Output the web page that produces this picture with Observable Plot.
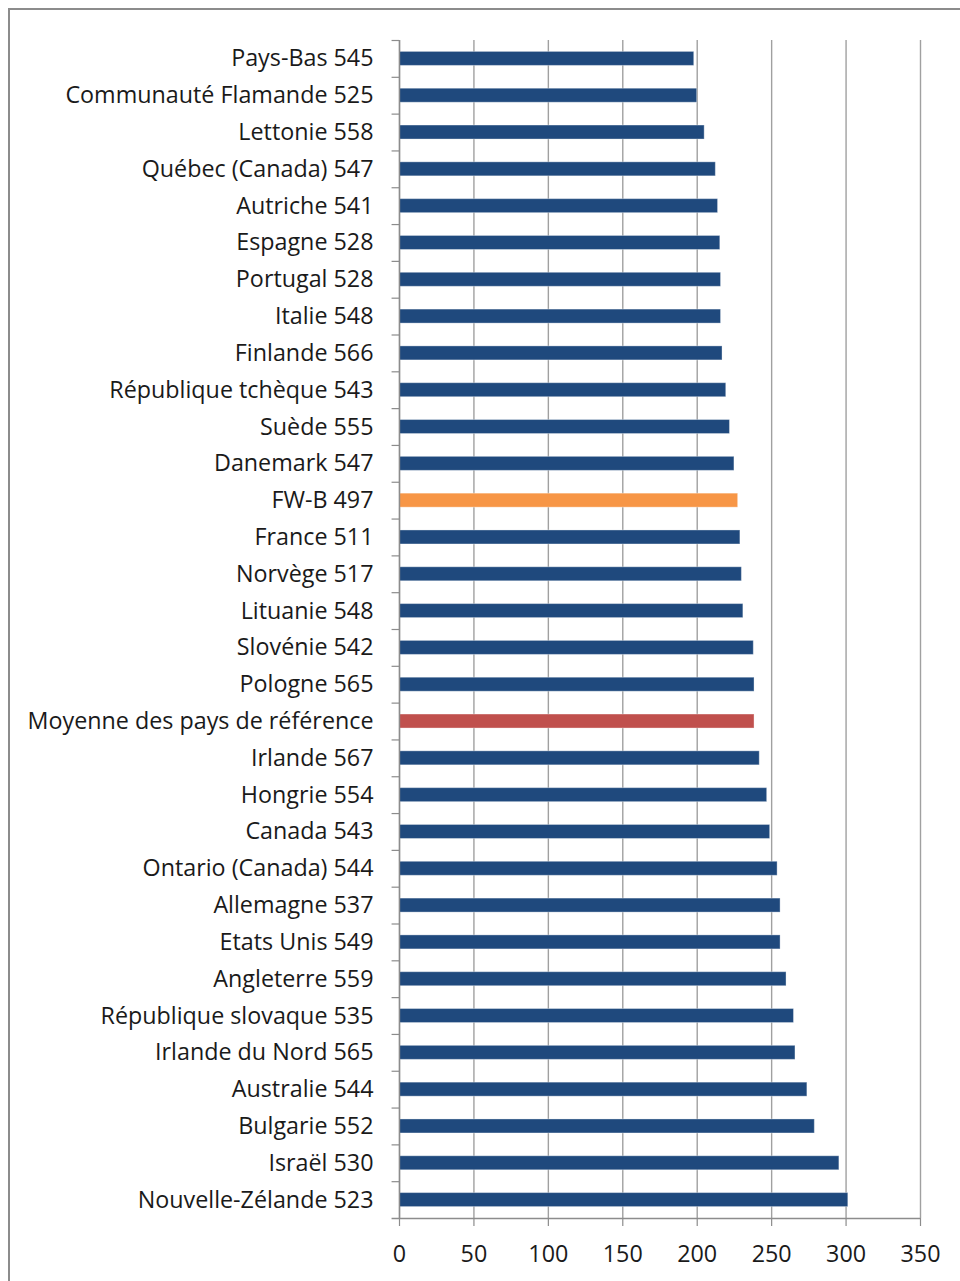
<!DOCTYPE html>
<html>
<head>
<meta charset="utf-8">
<script src="https://cdn.jsdelivr.net/npm/d3@7"></script>
<script src="https://cdn.jsdelivr.net/npm/@observablehq/plot@0.6"></script>
<style>
  html, body { margin: 0; padding: 0; background: #fff; overflow: hidden; }
  #frame { position: absolute; left: 8px; top: 8px; width: 1000px; height: 1400px; border: 2px solid #8c8c8c; box-sizing: border-box; }
  #chart { position: absolute; left: 0; top: 0; }
</style>
</head>
<body>
<div id="frame"></div>
<div id="chart"></div>
<script>
const categories = [
  "Pays-Bas 545", "Communauté Flamande 525", "Lettonie 558", "Québec (Canada) 547",
  "Autriche 541", "Espagne 528", "Portugal 528", "Italie 548", "Finlande 566",
  "République tchèque 543", "Suède 555", "Danemark 547", "FW-B 497", "France 511",
  "Norvège 517", "Lituanie 548", "Slovénie 542", "Pologne 565",
  "Moyenne des pays de référence", "Irlande 567", "Hongrie 554", "Canada 543",
  "Ontario (Canada) 544", "Allemagne 537", "Etats Unis 549", "Angleterre 559",
  "République slovaque 535", "Irlande du Nord 565", "Australie 544", "Bulgarie 552",
  "Israël 530", "Nouvelle-Zélande 523"
];
const values = [
  198, 200, 205, 212.5,
  214, 215.5, 216, 216, 217,
  219.5, 222, 225, 227.5, 229,
  230, 231, 238, 238.5,
  238.5, 242, 247, 249,
  254, 256, 256, 260,
  265, 266, 274, 279,
  295.5, 301.5
];
const groups = categories.map(c => c === "FW-B 497" ? "FW-B" : c.startsWith("Moyenne") ? "Moyenne" : "Pays");
const groupDomain = ["Pays", "FW-B", "Moyenne"];
const groupColors = ["#1F497D", "#F79646", "#C0504D"];
const xTicks = [0, 50, 100, 150, 200, 250, 300, 350];

const data = categories.map((name, i) => ({name, value: values[i], group: groups[i]}));

const W = 960, H = 1281;
const mTop = 40, mBottom = 63;
const step = (H - mTop - mBottom) / categories.length;
const half = step / 2;
const barInset = (step - 14) / 2;
const last = categories[categories.length - 1];

const chart = Plot.plot({
  width: W,
  height: H,
  marginLeft: 399,
  marginRight: 40,
  marginTop: mTop,
  marginBottom: mBottom,
  style: {fontFamily: "'Open Sans', sans-serif", fontSize: "23.3px", color: "#1a1a1a", background: "transparent"},
  x: {domain: [0, 350], label: null},
  y: {domain: categories, padding: 0, round: false, label: null},
  color: {domain: groupDomain, range: groupColors},
  marks: [
    Plot.ruleX(xTicks, {stroke: "#a0a0a0", strokeWidth: 1.4}),
    Plot.barX(data, {x: "value", y: "name", fill: "group", insetTop: barInset, insetBottom: barInset, stroke: "#ffffff", strokeOpacity: 0.35, strokeWidth: 1}),
    Plot.ruleX([0], {stroke: "#8c8c8c", strokeWidth: 1.4}),
    Plot.ruleY(categories, {y: d => d, x1: -5, x2: 0, dy: -half, stroke: "#8c8c8c", strokeWidth: 1.2}),
    Plot.ruleY([last], {y: d => d, x1: -5, x2: 350, dy: half, stroke: "#8c8c8c", strokeWidth: 1.4}),
    Plot.axisY({tickSize: 0, tickPadding: 26, label: null, fill: "#1a1a1a"}),
    Plot.axisX({ticks: xTicks, tickSize: 8, tickPadding: 19, label: null, stroke: "#8c8c8c", fill: "#1a1a1a", strokeWidth: 1.2})
  ]
});
document.getElementById("chart").appendChild(chart);
</script>
</body>
</html>
